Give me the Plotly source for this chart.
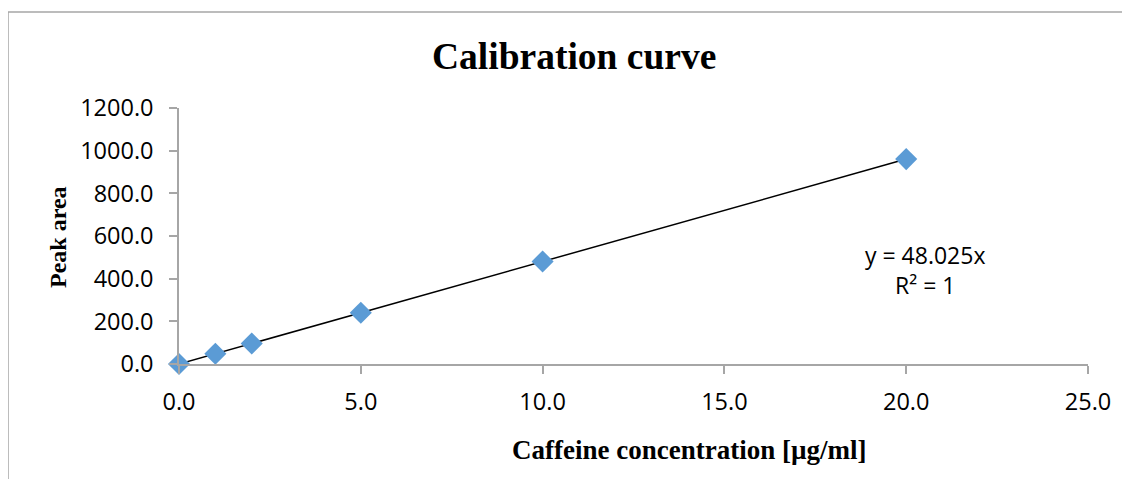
import plotly.graph_objects as go

# Data
concentration = [0, 1, 2, 5, 10, 20]
peak_area = [0.0, 48.0, 96.0, 240.1, 480.3, 960.5]
slope = 48.025
trend_x = [0, 20]
trend_y = [slope * v for v in trend_x]
x_ticks = [0, 5, 10, 15, 20, 25]
y_ticks = [0, 200, 400, 600, 800, 1000, 1200]

OFF = 8  # page body margin
W, H = 1130 - OFF, 479 - OFF
L = 179 - OFF
T = 108 - OFF
R = W - (1088 - OFF)
B = H - (364 - OFF)
pw, ph = W - L - R, H - T - B

def px(x):
    # page x -> paper fraction
    return (x - OFF - L) / pw

def py(y):
    # page y -> paper fraction
    return (H - B - (y - OFF)) / ph

axis_col = "#a6a6a6"
tick_font = dict(family="Open Sans", size=23.5, color="#000000")

fig = go.Figure()
fig.add_trace(go.Scatter(
    x=trend_x, y=trend_y, mode="lines",
    line=dict(color="#000000", width=1.5),
    hoverinfo="skip", showlegend=False, cliponaxis=False,
))
fig.add_trace(go.Scatter(
    x=concentration, y=peak_area, mode="markers",
    marker=dict(symbol="diamond", size=17, color="#5b9bd5",
                line=dict(width=0)),
    showlegend=False, cliponaxis=False,
))

fig.update_layout(
    width=W, height=H,
    margin=dict(l=L, r=R, t=T, b=B),
    paper_bgcolor="white", plot_bgcolor="white",
    xaxis=dict(range=[0, 25], tickvals=x_ticks, tickformat=".1f",
               showgrid=False, zeroline=False, showline=True,
               linecolor=axis_col, linewidth=1.5,
               ticks="outside", ticklen=8, tickcolor=axis_col, tickwidth=1.5,
               ticklabelstandoff=8,
               tickfont=tick_font),
    yaxis=dict(range=[0, 1200], tickvals=y_ticks, tickformat=".1f",
               showgrid=False, zeroline=False, showline=True,
               linecolor=axis_col, linewidth=1.5,
               ticks="outside", ticklen=8, tickcolor=axis_col, tickwidth=1.5,
               ticklabelstandoff=11,
               tickfont=tick_font),
    shapes=[
        dict(type="line", xref="paper", yref="paper",
             x0=px(8), x1=px(1140), y0=py(12), y1=py(12),
             line=dict(color=axis_col, width=1.5)),
        dict(type="line", xref="paper", yref="paper",
             x0=px(8), x1=px(8), y0=py(12), y1=py(490),
             line=dict(color=axis_col, width=1.5)),
    ],
    annotations=[
        dict(text="<b>Calibration curve</b>", xref="paper", yref="paper",
             x=px(574), y=py(56), showarrow=False, xanchor="center", yanchor="middle",
             font=dict(family="Liberation Serif", size=37.5, color="#000000")),
        dict(text="<b>Caffeine concentration [µg/ml]</b>", xref="paper", yref="paper",
             x=px(689), y=py(450), showarrow=False, xanchor="center", yanchor="middle",
             font=dict(family="Liberation Serif", size=27, color="#000000")),
        dict(text="<b>Peak area</b>", xref="paper", yref="paper",
             x=px(58), y=py(237), showarrow=False, textangle=-90,
             xanchor="center", yanchor="middle",
             font=dict(family="Liberation Serif", size=24, color="#000000")),
        dict(text="y = 48.025x<br>R² = 1", xref="paper", yref="paper",
             x=px(925), y=py(270), showarrow=False, xanchor="center", yanchor="middle",
             align="center",
             font=dict(family="Open Sans", size=23, color="#000000")),
    ],
)

fig.write_html("out.html")
